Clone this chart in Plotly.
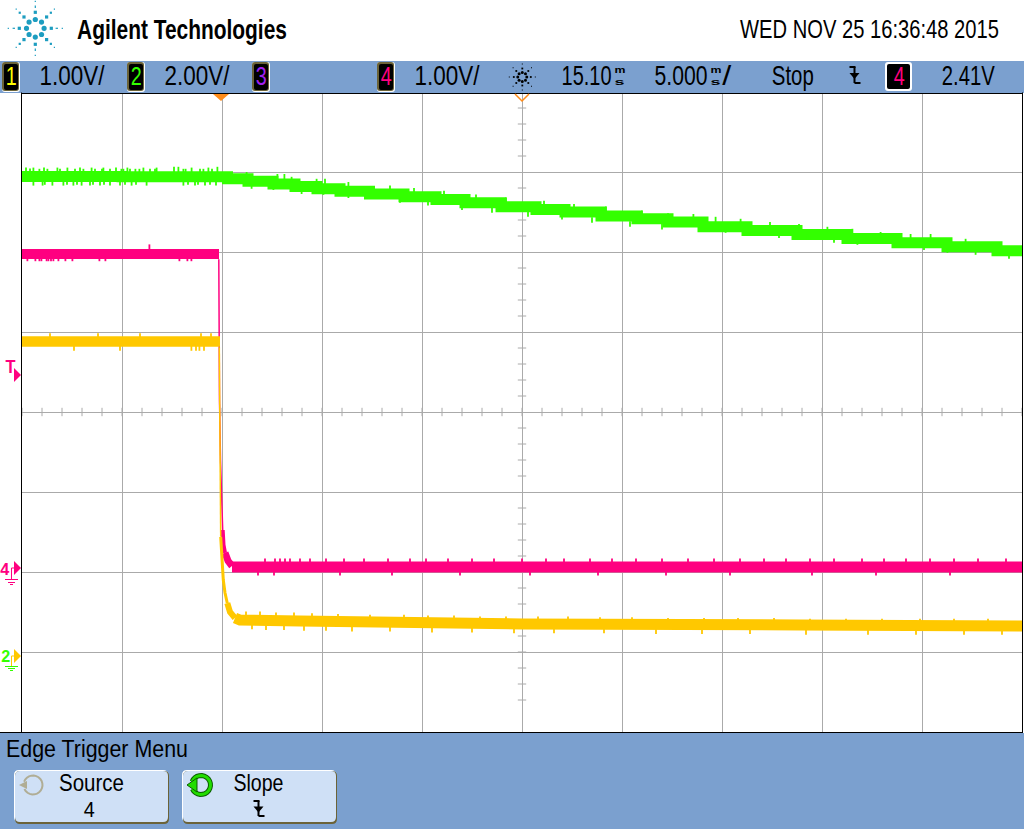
import json
import math
import plotly.graph_objects as go

W, H = 1024, 829
SANS = "Liberation Sans"

# ---- waveform data: time in ms from trigger, values in volts of each channel ----
ch2_t = [-10, 0, 0.55, 2.05, 3.05, 4.25, 5.25, 6.55, 8.2, 10, 11.4, 12.9, 15, 16.4, 17.9, 20, 21.5, 23.1, 25, 27.5, 30, 32.5, 35, 37.5, 40]
ch2_v = [11.99, 11.98, 11.93, 11.87, 11.80, 11.74, 11.68, 11.62, 11.55, 11.48, 11.41, 11.33, 11.23, 11.16, 11.10, 11.00, 10.93, 10.85, 10.73, 10.64, 10.54, 10.44, 10.33, 10.23, 10.13]
ch2_spike_t = [-9.8, -9.6, -9.43, -9.13, -8.9, -8.73, -8.23, -8.1, -7.73, -7.35, -7.1, -6.93, -6.52, -6.35, -6.0, -5.93, -5.6, -5.3, -5.03, -4.93, -4.73, -4.6, -4.33, -4.13, -3.93, -3.6, -3.35, -3.27, -2.4, -2.18, -1.93, -1.82, -1.52, -1.1, -0.93, -0.68, -0.5, -0.23,
               -9.43, -8.97, -8.86, -8.48, -7.93, -7.75, -7.43, -7.25, -7.02, -6.6, -6.45, -6.1, -5.9, -5.6, -5.1, -4.85, -4.52, -4.3, -3.77, -1.93, -1.7, -1.35, -1.2, -0.85, -0.6, -0.3,
               1.23, 2.77, 3.12, 3.48, 4.73, 5.15, 6.32, 1.48, 2.57, 3.98, 5.07, 6.32,
               8.4, 9.6, 11.1, 12.7, 14.2, 16.1, 17.6, 19.2, 21.0, 22.3,
               8.9, 10.3, 12.0, 13.5, 15.3, 17.0, 18.5, 20.4, 22.0,
               23.57, 24.68, 25.93, 27.4, 28.85, 30.27, 31.52, 32.93, 34.43, 35.43, 37.18, 38.85,
               23.85, 25.18, 26.6, 27.85, 29.27, 30.6, 31.77, 33.6, 35.1, 36.27, 37.68, 39.35]
ch2_spike_v = [12.14, 12.12, 12.14, 12.11, 12.14, 12.11, 12.14, 12.11, 12.14, 12.11, 12.14, 12.11, 12.14, 12.11, 12.11, 12.14, 12.11, 12.14, 12.11, 12.11, 12.14, 12.11, 12.11, 12.11, 12.14, 12.11, 12.11, 12.14, 12.16, 12.16, 12.11, 12.11, 12.14, 12.11, 12.11, 12.14, 12.11, 12.16,
               11.83, 11.83, 11.85, 11.83, 11.83, 11.85, 11.83, 11.85, 11.83, 11.83, 11.85, 11.83, 11.85, 11.83, 11.83, 11.85, 11.83, 11.85, 11.83, 11.83, 11.85, 11.83, 11.85, 11.83, 11.85, 11.83,
               12.03, 11.98, 11.98, 11.91, 11.86, 11.86, 11.78, 11.75, 11.72, 11.62, 11.60, 11.52,
               11.69, 11.63, 11.56, 11.47, 11.39, 11.31, 11.23, 11.17, 11.07, 11.00,
               11.40, 11.33, 11.22, 11.15, 11.05, 10.98, 10.90, 10.80, 10.73,
               10.98, 10.91, 10.86, 10.78, 10.73, 10.66, 10.61, 10.53, 10.48, 10.48, 10.36, 10.28,
               10.72, 10.65, 10.57, 10.52, 10.47, 10.40, 10.35, 10.27, 10.22, 10.15, 10.10, 10.00]

ch4_pre_t = [-10, -0.15]
ch4_pre_v = [3.925, 3.925]
ch4_edge_t = [-0.16, -0.15, -0.125, -0.075, -0.035, 0, 0.035]
ch4_edge_v = [3.86, 2.79, 2.10, 1.35, 0.975, 0.725, 0.475]
ch4_tail_t = [0.035, 0.075, 0.15]
ch4_tail_v = [0.475, 0.29, 0.19]
ch4_foot_t = [0.15, 0.3, 0.5]
ch4_foot_v = [0.19, 0.09, 0.025]
ch4_post_t = [0.5, 40]
ch4_post_v = [0.0125, 0.0125]
ch4_spike_t = [-3.63, -9.73, -9.33, -9.13, -9.03, -8.77, -8.68, -8.55, -8.43, -8.18, -7.83, -7.48, -6.13, -5.83, -2.13, -1.73, -1.53,
               2.15, 2.65, 2.9, 3.15, 3.4, 3.9, 4.4, 5.2, 6.1, 7.1, 8.3, 9.4, 10.2, 11.3, 12.5, 13.6, 15.0, 16.2, 17.1, 18.4, 19.5, 20.7, 22.0, 23.3, 24.6, 25.9, 27.1, 28.2, 29.4, 30.6, 32.0, 33.1, 34.2, 35.4, 36.6, 37.8, 39.2,
               1.8, 2.6, 5.9, 8.5, 11.9, 15.4, 18.8, 22.2, 25.4, 29.5, 32.7, 36.4]
ch4_spike_v = [4.01, 3.87, 3.87, 3.87, 3.87, 3.87, 3.87, 3.87, 3.87, 3.87, 3.87, 3.87, 3.87, 3.87, 3.87, 3.87, 3.87,
               0.085, 0.085, 0.085, 0.085, 0.085, 0.085, 0.085, 0.085, 0.085, 0.085, 0.085, 0.085, 0.085, 0.085, 0.085, 0.085, 0.085, 0.085, 0.085, 0.085, 0.085, 0.085, 0.085, 0.085, 0.085, 0.085, 0.085, 0.085, 0.085, 0.085, 0.085, 0.085, 0.085, 0.085, 0.085, 0.085, 0.085,
               -0.06, -0.06, -0.06, -0.06, -0.06, -0.06, -0.06, -0.06, -0.06, -0.06, -0.06, -0.06]

ch1_pre_t = [-10, -0.1]
ch1_pre_v = [3.93, 3.93]
ch1_edge_t = [-0.135, -0.12, -0.085, -0.065]
ch1_edge_v = [3.86, 2.95, 2.20, 1.49]
ch1_tail_t = [-0.065, 0, 0.065, 0.15, 0.265]
ch1_tail_v = [1.49, 1.20, 0.95, 0.79, 0.66]
ch1_foot_t = [0.265, 0.4, 0.65]
ch1_foot_v = [0.66, 0.55, 0.475]
ch1_post_t = [0.65, 0.9, 3.9, 8.9, 15, 28.9, 40]
ch1_post_v = [0.475, 0.45, 0.4375, 0.4125, 0.40, 0.3875, 0.375]
ch1_spike_t = [-8.6, -6.2, -4.1, -1.05, -0.55, -1.53, -1.3, -1.13, -0.9, -7.4, -5.1,
               1.2, 1.9, 2.7, 3.6, 4.5, 5.8, 7.4, 9.1, 10.3, 11.6, 12.9, 14.2, 15.8, 17.3, 18.9, 20.5, 22.3, 24.1, 25.8, 27.6, 29.4, 31.2, 33.0, 34.9, 36.6, 38.3,
               1.5, 2.2, 3.1, 4.1, 5.2, 6.5, 8.4, 10.5, 12.5, 14.6, 16.6, 19.1, 21.7, 24.0, 26.4, 29.2, 32.3, 34.7, 37.1, 39.0]
ch1_spike_v = [4.0, 4.0, 4.0, 4.0, 4.0, 3.85, 3.85, 3.85, 3.85, 3.85, 3.85,
               0.52, 0.52, 0.51, 0.51, 0.50, 0.49, 0.48, 0.48, 0.47, 0.47, 0.46, 0.46, 0.46, 0.46, 0.45, 0.45, 0.44, 0.44, 0.44, 0.44, 0.43, 0.43, 0.43, 0.43, 0.43, 0.43,
               0.37, 0.36, 0.36, 0.35, 0.35, 0.34, 0.34, 0.33, 0.33, 0.32, 0.32, 0.32, 0.31, 0.31, 0.31, 0.30, 0.30, 0.30, 0.30, 0.30]

center_ticks_t = list(range(-10, 41))
center_ticks_v = [-1.65, -1.45, -1.25, -1.05, -0.85, -0.65, -0.45, -0.25, 0.15, 0.35, 0.55, 0.75, 1.15, 1.35, 1.55, 1.75,
                  2.15, 2.35, 2.55, 2.75, 3.15, 3.35, 3.55, 3.75, 4.15, 4.35, 4.55, 4.75, 5.15, 5.35, 5.55, 5.75]
TIME_CENTER = 15
CH4_CENTER = 1.95

# ---- labels ----
title_text = "Agilent Technologies"
stamp_text = "WED NOV 25 16:36:48 2015"
status_labels = ["1.00V/", "2.00V/", "1.00V/", "15.10", "5.000", "Stop", "2.41V"]
menu_title = "Edge Trigger Menu"

# ---- colours ----
BLUE = "#7ba0cf"
GRID = "#aaaaaa"
GREEN = "#33ff00"
MAGENTA = "#ff0080"
AMBER = "#ffc800"
LOGO = "#1d9dc0"
BTN = "#cfe0f6"
OLIVE = "#6b6338"


def px(x):
    return x / W


def py(y):
    return 1 - y / H


shapes = []
annots = []
text_fits = []


def rect(x0, y0, x1, y1, color):
    shapes.append(dict(type="rect", xref="paper", yref="paper", x0=px(x0), x1=px(x1), y0=py(y0), y1=py(y1),
                       fillcolor=color, line_width=0))


def dot(x, y, r, color):
    shapes.append(dict(type="circle", xref="paper", yref="paper", x0=px(x - r), x1=px(x + r), y0=py(y - r), y1=py(y + r),
                       fillcolor=color, line_width=0))


def poly(points, fill=None, stroke=None, width=1, close=True):
    path = "M" + " L".join(f"{px(a):.5f},{py(b):.5f}" for a, b in points) + (" Z" if close else "")
    shapes.append(dict(type="path", xref="paper", yref="paper", path=path,
                       fillcolor=fill if fill else "rgba(0,0,0,0)",
                       line=dict(color=stroke if stroke else "rgba(0,0,0,0)", width=width if stroke else 0)))


def rrect(x0, y0, x1, y1, r, color):
    a, b = px, py
    path = (f"M{a(x0 + r)},{b(y0)} L{a(x1 - r)},{b(y0)} Q{a(x1)},{b(y0)} {a(x1)},{b(y0 + r)} "
            f"L{a(x1)},{b(y1 - r)} Q{a(x1)},{b(y1)} {a(x1 - r)},{b(y1)} L{a(x0 + r)},{b(y1)} "
            f"Q{a(x0)},{b(y1)} {a(x0)},{b(y1 - r)} L{a(x0)},{b(y0 + r)} Q{a(x0)},{b(y0)} {a(x0 + r)},{b(y0)} Z")
    shapes.append(dict(type="path", xref="paper", yref="paper", path=path, fillcolor=color, line_width=0))


def text(x, y, s, size, span=None, color="#000000", weight=400, anchor="center"):
    """Label at x (centre, left or right edge); span is the width in pixels the condensed scope font takes."""
    annots.append(dict(xref="paper", yref="paper", x=px(x), y=py(y), text=s,
                       showarrow=False, xanchor=anchor, yanchor="middle", borderpad=0, borderwidth=0,
                       font=dict(size=size, color=color, family=SANS, weight=weight)))
    text_fits.append([span, anchor])


def slope_icon(cx, top, bottom):
    mid = (top + bottom) / 2
    poly([(cx - 5, top + 1), (cx + 1, top + 1)], stroke="#000000", width=2, close=False)
    poly([(cx, top + 1), (cx, bottom - 1)], stroke="#000000", width=2, close=False)
    poly([(cx, bottom - 1), (cx + 6, bottom - 1)], stroke="#000000", width=2, close=False)
    poly([(cx - 5, mid - 2), (cx + 5, mid - 2), (cx, mid + 4)], fill="#000000")


# bands
rect(0, 61, W, 93, BLUE)
rect(0, 733, W, H, BLUE)

# logo
LCX, LCY = 35.3, 28.3
for k in range(8):
    a = math.radians(45 * k)
    c, s = math.cos(a), math.sin(a)
    dot(LCX + 8.8 * c, LCY + 8.8 * s, 2.6, LOGO)
    rect(LCX + 16 * c - 1.6, LCY + 16 * s - 1.6, LCX + 16 * c + 1.6, LCY + 16 * s + 1.6, LOGO)
    if k % 2 == 0:
        rect(LCX + 21.5 * c - (1.2 if abs(c) > .5 else .6), LCY + 21.5 * s - (1.2 if abs(s) > .5 else .6),
             LCX + 21.5 * c + (1.2 if abs(c) > .5 else .6), LCY + 21.5 * s + (1.2 if abs(s) > .5 else .6), LOGO)
    else:
        rect(LCX + 22 * c - 1.1, LCY + 22 * s - 1.1, LCX + 22 * c + 1.1, LCY + 22 * s + 1.1, LOGO)
    rect(LCX + 27 * c - .6, LCY + 27 * s - .6, LCX + 27 * c + .6, LCY + 27 * s + .6, LOGO)

text(77, 30, title_text, 27, span=210, weight=700, anchor="left")
text(999, 29, stamp_text, 25, span=259, anchor="right")

# channel boxes
for x0, col, label in [(2, "#ffff00", "1"), (127, GREEN, "2"), (252, "#a020f0", "3"), (377, MAGENTA, "4")]:
    rrect(x0, 62, x0 + 18, 92, 3, "#ffffff")
    rrect(x0, 62, x0 + 17, 91, 3, OLIVE)
    rrect(x0 + 2, 64, x0 + 16, 90, 2, "#000000")
    text(x0 + 9, 76, label, 26, span=11, color=col)

text(72.5, 76, status_labels[0], 27, span=65)
text(197.5, 76, status_labels[1], 27, span=65)
text(447.5, 76, status_labels[2], 27, span=65)

# acquisition "sun"
SCX, SCY = 522.3, 77
for k in range(8):
    a = math.radians(45 * k)
    c, s = math.cos(a), math.sin(a)
    dot(SCX + 4.5 * c, SCY + 4.5 * s, 1.5, "#000000")
    rect(SCX + 8.5 * c - .9, SCY + 8.5 * s - .9, SCX + 8.5 * c + .9, SCY + 8.5 * s + .9, "#000000")
    rect(SCX + 13 * c - .5, SCY + 13 * s - .5, SCX + 13 * c + .5, SCY + 13 * s + .5, "#000000")

text(612, 76, status_labels[3], 27, span=50, anchor="right")
text(619.5, 70, "m", 9, span=11, weight=700)
text(619.5, 81.5, "s", 9, span=10, weight=700)
text(708, 76, status_labels[4], 27, span=53, anchor="right")
text(715.5, 70, "m", 9, span=11, weight=700)
text(715.5, 81.5, "s", 9, span=10, weight=700)
text(726.5, 76, "/", 27, span=9)
text(793, 76, status_labels[5], 27, span=42)
slope_icon(854.5, 66, 84)
rrect(885, 62, 912, 91, 3, "#ffffff")
rrect(887, 64, 910, 89, 2, "#000000")
text(898.5, 76, "4", 26, span=11, color=MAGENTA)
text(968.5, 76, status_labels[6], 27, span=53)

# plot frame
rect(21, 92.5, 22, 733, "#000000")
rect(1022, 92.5, 1023, 733, "#000000")
rect(21, 93, 1023, 94, "#000000")
rect(0, 732, 1023, 733, "#000000")

# time markers
poly([(213, 94), (229, 94), (221, 101)], fill="#ff8c1a")
poly([(515, 94), (522, 101), (529, 94)], stroke="#ff8c1a", width=1.5, close=False)

# trigger level marker
text(10.5, 367, "T", 18, span=10, color=MAGENTA, weight=700)
poly([(14, 368), (21, 375), (14, 382)], fill=MAGENTA)

# channel 4 ground marker
text(5, 569, "4", 17, span=9, color=MAGENTA, weight=700)
poly([(14, 561), (21, 568), (14, 575)], fill=MAGENTA)
poly([(14, 568), (11.5, 568), (11.5, 579)], stroke=MAGENTA, width=1, close=False)
rect(5, 579, 18, 580, MAGENTA)
rect(8, 582, 15, 583, MAGENTA)
rect(10, 584, 13, 585, MAGENTA)

# channels 1 / 2 ground marker
text(5, 656, "2", 17, span=9, color=GREEN, weight=700)
poly([(14, 649), (21, 656), (14, 663)], fill=AMBER)
poly([(14, 656), (11.5, 656), (11.5, 666)], stroke=AMBER, width=1, close=False)
rect(5, 666, 18, 667, GREEN)
rect(8, 668, 15, 669, GREEN)
rect(10, 670, 13, 671, GREEN)

# softkey menu
text(6, 748, menu_title, 24, span=182, anchor="left")
for x0, x1 in [(14, 169), (182, 337)]:
    rrect(x0, 770, x1 - 1, 822, 5, "#ffffff")
    rrect(x0 + 1, 771, x1, 824, 5, OLIVE)
    rrect(x0 + 1, 771, x1 - 1, 822, 5, BTN)

text(91, 783, "Source", 23, span=65)
text(89, 809, "4", 22, span=11)
text(258, 783, "Slope", 23, span=50)
slope_icon(258.5, 800, 817)

ring_angles = list(range(-160, 170, 15))
gray_ring = [(33 + 9.5 * math.cos(math.radians(t)), 785 + 9.5 * math.sin(math.radians(t))) for t in ring_angles]
poly(gray_ring, stroke="#b0ad95", width=2, close=False)
poly([(19, 785), (27, 781), (27, 789)], fill="#b0ad95")
green_ring = [(201 + 9.5 * math.cos(math.radians(t)), 785 + 9.5 * math.sin(math.radians(t))) for t in ring_angles]
poly(green_ring, stroke="#0b5d00", width=5, close=False)
poly(green_ring, stroke="#22dd00", width=3, close=False)
poly([(187, 785), (197, 778), (197, 792)], fill="#22dd00", stroke="#0b5d00", width=1)


def band(t, v, color, width, axis, shape="linear"):
    return go.Scatter(x=t, y=v, mode="lines", yaxis=axis, line=dict(color=color, width=width, shape=shape),
                      hoverinfo="skip", showlegend=False)


def spikes(t, v, color, axis):
    return go.Scatter(x=t, y=v, mode="markers", yaxis=axis, hoverinfo="skip", showlegend=False,
                      marker=dict(symbol="line-ns", size=4, line=dict(color=color, width=1.8)))


fig = go.Figure()
# centre graticule ticks
fig.add_trace(go.Scatter(x=center_ticks_t, y=[CH4_CENTER] * len(center_ticks_t), mode="markers", yaxis="y",
                         hoverinfo="skip", showlegend=False,
                         marker=dict(symbol="line-ns", size=6, line=dict(color=GRID, width=1))))
fig.add_trace(go.Scatter(x=[TIME_CENTER] * len(center_ticks_v), y=center_ticks_v, mode="markers", yaxis="y",
                         hoverinfo="skip", showlegend=False,
                         marker=dict(symbol="line-ew", size=6, line=dict(color=GRID, width=1))))

fig.add_trace(band(ch2_t, ch2_v, GREEN, 11, "y3", "hvh"))
fig.add_trace(spikes(ch2_spike_t, ch2_spike_v, GREEN, "y3"))
fig.add_trace(band(ch4_pre_t, ch4_pre_v, MAGENTA, 10, "y"))
fig.add_trace(band(ch4_edge_t, ch4_edge_v, MAGENTA, 1.5, "y"))
fig.add_trace(band(ch4_tail_t, ch4_tail_v, MAGENTA, 4, "y"))
fig.add_trace(band(ch4_foot_t, ch4_foot_v, MAGENTA, 7, "y"))
fig.add_trace(band(ch4_post_t, ch4_post_v, MAGENTA, 11, "y"))
fig.add_trace(spikes(ch4_spike_t, ch4_spike_v, MAGENTA, "y"))
fig.add_trace(band(ch1_pre_t, ch1_pre_v, AMBER, 10.5, "y2"))
fig.add_trace(band(ch1_edge_t, ch1_edge_v, AMBER, 1.5, "y2"))
fig.add_trace(band(ch1_tail_t, ch1_tail_v, AMBER, 3, "y2"))
fig.add_trace(band(ch1_foot_t, ch1_foot_v, AMBER, 6, "y2"))
fig.add_trace(band(ch1_post_t, ch1_post_v, AMBER, 11, "y2"))
fig.add_trace(spikes(ch1_spike_t, ch1_spike_v, AMBER, "y2"))

hidden = dict(showgrid=False, zeroline=False, showticklabels=False, ticks="", showline=False,
              overlaying="y", domain=[97 / H, 737 / H])
fig.update_layout(
    width=W, height=H, autosize=False,
    margin=dict(l=0, r=0, t=0, b=0, pad=0),
    paper_bgcolor="#ffffff", plot_bgcolor="#ffffff",
    showlegend=False, shapes=shapes, annotations=annots,
    xaxis=dict(domain=[22 / W, 1022 / W], range=[-10, 40], tick0=0, dtick=5, showgrid=True, gridcolor=GRID, gridwidth=1,
               zeroline=False, showticklabels=False, ticks="", showline=False, anchor="y"),
    yaxis=dict(domain=[97 / H, 737 / H], range=[-2.05, 5.95], tick0=-0.05, dtick=1, showgrid=True, gridcolor=GRID,
               gridwidth=1, zeroline=False, showticklabels=False, ticks="", showline=False, anchor="x"),
    yaxis2=dict(range=[-0.95, 7.05], **hidden),
    yaxis3=dict(range=[-1.9, 14.1], **hidden),
)

# the scope's font is condensed and no condensed family is installed: squeeze each real text horizontally
# to its width, about the edge (or centre) it is anchored at
post = """
document.body.style.margin='0';
document.documentElement.style.overflow='hidden';
var fits = %s;
fits.forEach(function(f, i) {
  var w = f[0], anchor = f[1];
  if (w === null) return;
  var t = document.querySelector('g.annotation[data-index="' + i + '"] text');
  if (!t) return;
  var nat = t.getComputedTextLength();
  var x = parseFloat(t.getAttribute('x'));
  var pivot = anchor === 'left' ? x - nat / 2 : anchor === 'right' ? x + nat / 2 : x;
  t.setAttribute('transform', 'translate(' + pivot + ',0) scale(' + (w / nat) + ',1) translate(' + (-pivot) + ',0)');
});
""" % json.dumps(text_fits)
fig.write_html("out.html", config=dict(displayModeBar=False), post_script=post)
